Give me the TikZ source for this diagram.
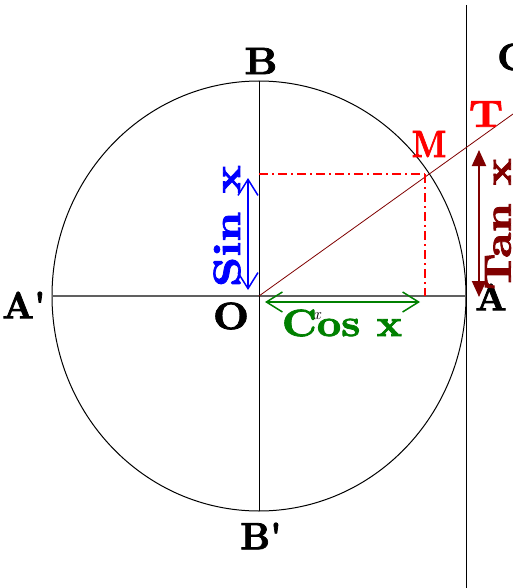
\documentclass[tikz,border=0pt]{standalone}
\usepackage{fontspec}
\usetikzlibrary{arrows.meta}
\newfontfamily\lblfont{lmroman10-bold.otf}[FakeBold=2]
\definecolor{sinblue}{HTML}{0000FF}
\definecolor{cosgreen}{HTML}{008000}
\definecolor{ptred}{HTML}{FF0000}
\definecolor{tanred}{HTML}{800000}
\definecolor{axisgray}{HTML}{606060}
\newcommand{\widelbl}[2]{\scalebox{#1}[1]{#2}}

\begin{document}
\begin{tikzpicture}[x=1pt, y=-1pt,
  lbl/.style={inner sep=0pt, font=\fontsize{38}{38}\lblfont},
  openarrow/.style={line width=1.5pt, {Straight Barb[length=16pt, width=20pt]}-{Straight Barb[length=16pt, width=20pt]}},
  projline/.style={ptred, line width=1.5pt, dash pattern=on 9pt off 4pt on 2pt off 4pt}]

% Frame
\clip (0,0) rectangle (513,588);
\fill[white] (0,0) rectangle (513,588);

% --- Key points ---
\coordinate (O) at (259,296);
\coordinate (Aleft) at (52,296);
\coordinate (Aright) at (466,296);
\coordinate (Btop) at (259,81);
\coordinate (Bbot) at (259,511);
\coordinate (M) at (425,174);
\coordinate (Msin) at (259,174);
\coordinate (Mcos) at (425,296);
\coordinate (raytip) at (513,114);
\coordinate (tanup) at (466,5);
\coordinate (tandown) at (466,588);

% Circle and axes
\draw[black, line width=1pt] (O) ellipse (207 and 215);
\draw[axisgray, line width=1.5pt] (Aleft) -- (Aright);
\draw[black, line width=1pt] (Btop) -- (Bbot);

% Tangent line at A
\draw[black, line width=1pt] (tanup) -- (tandown);

% Ray OM
\draw[tanred, line width=0.8pt] (O) -- (raytip);

% --- Projections of M (dash-dot) ---
\draw[projline] (Msin) -- (M);
\draw[projline] (M) -- (Mcos);

% --- Labels ---
\node[lbl] (labB) at (261,61) {\widelbl{1.06}{B}};
\node[lbl] (labBp) at (261,536) {\widelbl{0.96}{B\textquotesingle}};
\node[lbl] (labAp) at (24,305) {\widelbl{0.96}{A\textquotesingle}};
\node[lbl] (labA) at (491,297) {\widelbl{0.96}{A}};
\node[lbl] (labO) at (231,316) {\widelbl{1.1}{O}};
\node[lbl] (labC) at (513,57) {C};
\node[lbl, text=ptred] (labT) at (486,114) {\widelbl{1.13}{T}};
\node[lbl, text=ptred] (labM) at (429,144) {\widelbl{0.83}{M}};

% --- Sin, Cos, Tan arrows ---
\coordinate (sintop) at (248,178);
\coordinate (sinbot) at (248,290);
\draw[openarrow, sinblue] (sinbot) -- (sintop);
\node[lbl, text=sinblue, rotate=90] (labSin) at (227,226) {\widelbl{1.24}{Sin x}};

\coordinate (cosleft) at (265,302);
\coordinate (cosright) at (420,302);
\draw[openarrow, cosgreen] (cosleft) -- (cosright);
\node[lbl, text=cosgreen] (labCos) at (342,323) {\widelbl{1.11}{Cos x}};

\coordinate (tantop) at (479,150);
\coordinate (tanbot) at (479,297);
\draw[tanred, line width=2pt, {Triangle[length=16pt, width=14pt]}-{Triangle[length=16pt, width=14pt]}]
  (tanbot) -- (tantop);
\node[lbl, text=tanred, rotate=90] (labTan) at (498,224) {\widelbl{1.2}{Tan x}};

% Angle
\node[inner sep=0pt, font=\fontsize{16}{16}\selectfont\itshape] (labx) at (317,316) {x};

\end{tikzpicture}
\end{document}
